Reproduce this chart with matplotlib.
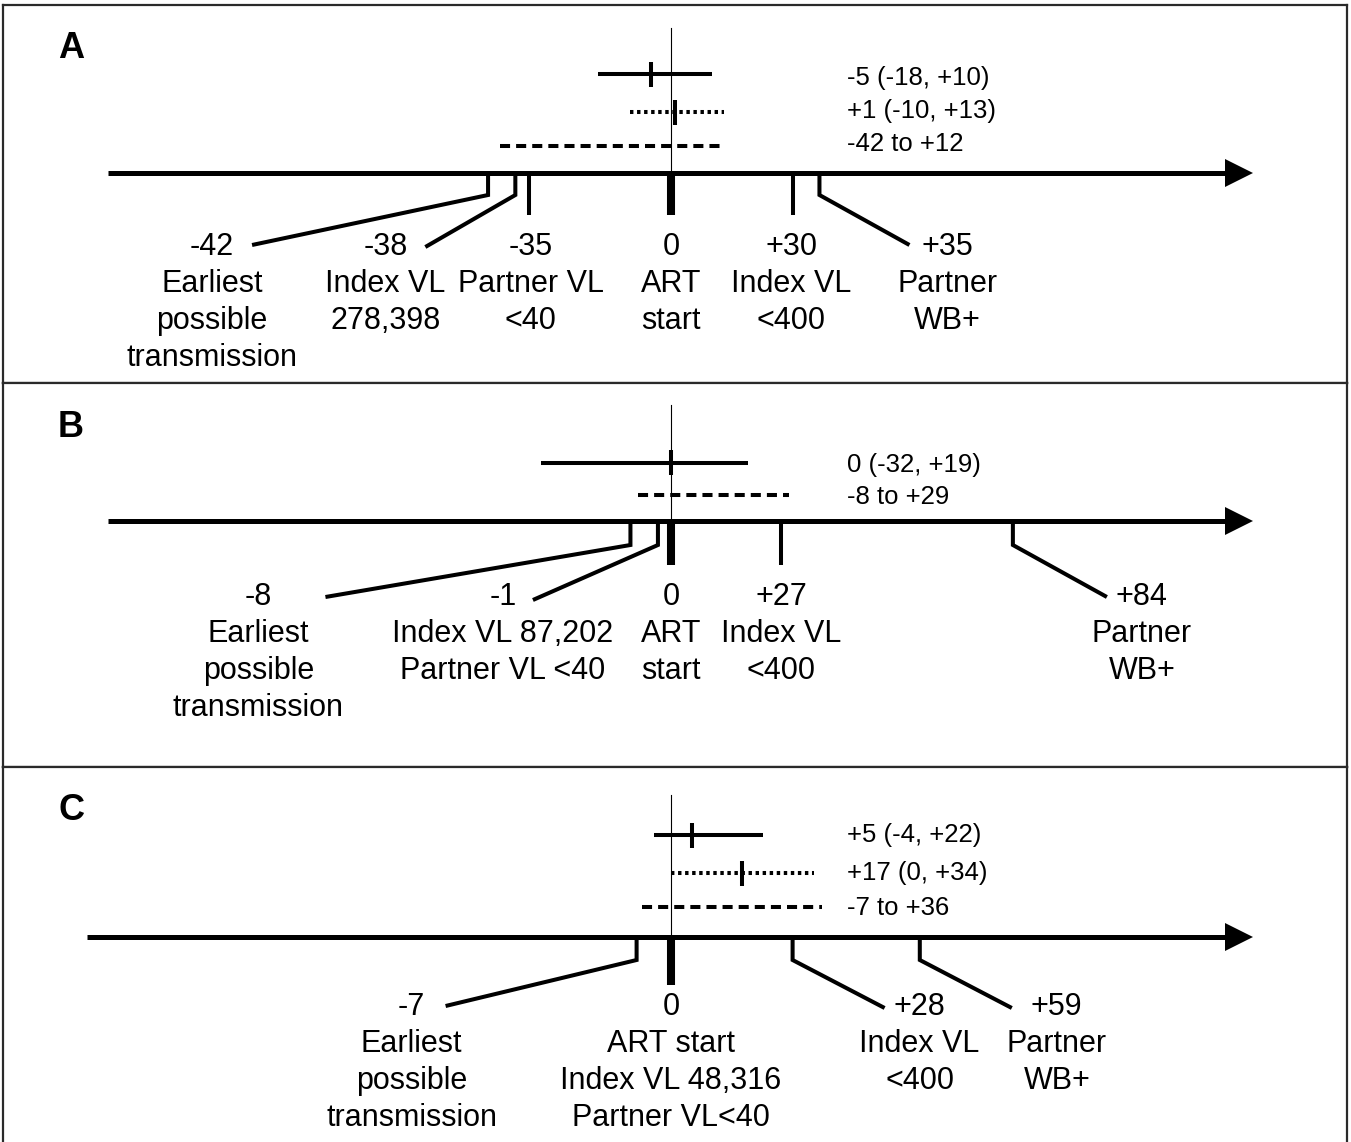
import matplotlib
matplotlib.use('Agg')
import matplotlib.pyplot as plt

plt.rcParams['font.family'] = ['Liberation Sans', 'DejaVu Sans']

# ---- data: days relative to ART start ----
# panel A
a_days = [-42, -38, -35, 0, 30, 35]
a_desc = ['Earliest\npossible\ntransmission', 'Index VL\n278,398', 'Partner VL\n<40',
          'ART\nstart', 'Index VL\n<400', 'Partner\nWB+']
a_solid = (-5, -18, 10)      # estimate, low, high
a_dotted = (1, -10, 13)
a_window = (-42, 12)

# panel B
b_days = [-8, -1, 0, 27, 84]
b_desc = ['Earliest\npossible\ntransmission', 'Index VL 87,202\nPartner VL <40',
          'ART\nstart', 'Index VL\n<400', 'Partner\nWB+']
b_solid = (0, -32, 19)
b_dotted = None
b_window = (-8, 29)

# panel C
c_days = [-7, 0, 28, 59]
c_desc = ['Earliest\npossible\ntransmission', 'ART start\nIndex VL 48,316\nPartner VL<40',
          'Index VL\n<400', 'Partner\nWB+']
c_solid = (5, -4, 22)
c_dotted = (17, 0, 34)
c_window = (-7, 36)

# ---- layout (pixels) ----
W, H = 1351, 1142
ZERO_PX = 671
LEFT_PX, RIGHT_PX = 3, 1347
TIP_PX = 1252

panels = [
    dict(letter='A', box=(5, 383), letter_y=58, scale=4.07, axis_y=173, axis_x0=108, top=28,
         days=a_days, desc=a_desc, solid=a_solid, dotted=a_dotted, window=a_window,
         rows=[74, 112, 146], text_base=[85, 118, 151],
         kind=['knee', 'knee', 'straight', 'zero', 'straight', 'knee'],
         nudge=[-12, -1, 0, 0, 0, 6],
         label_dx=[-276, -130, 2, 0, -2, 128],
         end_dx=[-236, -90, 0, 0, 0, 90],
         knee=22, end_dy=[72, 74, 0, 0, 0, 72], stick=42, base=82),
    dict(letter='B', box=(383, 767), letter_y=437, scale=4.07, axis_y=521, axis_x0=108, top=405,
         days=b_days, desc=b_desc, solid=b_solid, dotted=b_dotted, window=b_window,
         rows=[463, None, 495], text_base=[472, None, 504],
         kind=['knee', 'knee', 'zero', 'straight', 'knee'],
         nudge=[-8, -9, 0, 0, 0],
         label_dx=[-372, -155, 0, 0, 129],
         end_dx=[-305, -125, 0, 0, 94],
         knee=24, end_dy=[76, 79, 0, 0, 76], stick=44, base=84),
    dict(letter='C', box=(767, 1148), letter_y=820, scale=4.2, axis_y=937, axis_x0=87, top=795,
         days=c_days, desc=c_desc, solid=c_solid, dotted=c_dotted, window=c_window,
         rows=[835, 873, 907], text_base=[842, 880, 915],
         kind=['knee', 'zero', 'knee', 'knee'],
         nudge=[-5, 0, 4, 1],
         label_dx=[-225, 0, 127, 137],
         end_dx=[-191, 0, 92, 92],
         knee=23, end_dy=[69, 0, 71, 71], stick=48, base=78),
]

LINE_PITCH = 37
TEXT_X_PX = 847


def fmt_day(d):
    return '0' if d == 0 else f'{d:+d}'


fig = plt.figure(figsize=(W / 100, H / 100), dpi=100)

for p in panels:
    top_px, bot_px = p['box']
    s = p['scale']
    ax = fig.add_axes([LEFT_PX / W, 1 - bot_px / H, (RIGHT_PX - LEFT_PX) / W, (bot_px - top_px) / H])
    ax.set_xlim((LEFT_PX - ZERO_PX) / s, (RIGHT_PX - ZERO_PX) / s)
    ax.set_ylim(bot_px, top_px)
    ax.set_xticks([])
    ax.set_yticks([])
    for sp in ax.spines.values():
        sp.set_linewidth(1.6)
        sp.set_color('#2a2a2a')

    ay = p['axis_y']

    # panel letter
    ax.text((58 - ZERO_PX) / s, p['letter_y'], p['letter'], fontsize=26, fontweight='bold',
            ha='left', va='baseline')

    # thin reference line at ART start
    ax.plot([0, 0], [p['top'], ay], color='black', lw=0.8)

    # main time axis with arrow head
    head = 13 / s
    tip = (TIP_PX - ZERO_PX) / s
    ax.plot([(p['axis_x0'] - ZERO_PX) / s, tip - head], [ay, ay], color='black', lw=3.6,
            solid_capstyle='butt')
    ax.plot([tip - head], [ay], marker='>', ms=19.5, color='black', mew=0)

    # estimates and window
    est_styles = [('solid', p['solid']), ((0, (0.85, 0.9)), p['dotted'])]
    for (ls, est), y, tb in zip(est_styles, p['rows'][:2], p['text_base'][:2]):
        if est is None:
            continue
        e, lo, hi = est
        ax.plot([lo, hi], [y, y], color='black', lw=2.9, linestyle=ls,
                solid_capstyle='butt', dash_capstyle='butt')
        ax.plot([e, e], [y - 12.5, y + 12.5], color='black', lw=2.9, solid_capstyle='butt')
        ax.text((TEXT_X_PX - ZERO_PX) / s, tb, f'{fmt_day(e)} ({fmt_day(lo)}, {fmt_day(hi)})',
                fontsize=18.5, ha='left', va='baseline')
    w0, w1 = p['window']
    y = p['rows'][2]
    ax.plot([w0, w1], [y, y], color='black', lw=2.9, linestyle=(0, (2.5, 1.5)),
            dash_capstyle='butt')
    ax.text((TEXT_X_PX - ZERO_PX) / s, p['text_base'][2], f'{fmt_day(w0)} to {fmt_day(w1)}',
            fontsize=18.5, ha='left', va='baseline')

    # event ticks, leaders and labels
    for i, d in enumerate(p['days']):
        x = d + p['nudge'][i] / s
        kind = p['kind'][i]
        if kind == 'zero':
            ax.plot([x, x], [ay, ay + p['stick']], color='black', lw=5.8, solid_capstyle='butt')
        elif kind == 'straight':
            ax.plot([x, x], [ay, ay + p['stick']], color='black', lw=2.9, solid_capstyle='butt')
        else:
            ax.plot([x, x, x + p['end_dx'][i] / s], [ay, ay + p['knee'], ay + p['end_dy'][i]],
                    color='black', lw=2.9, solid_capstyle='butt', solid_joinstyle='miter')
        lx = x + p['label_dx'][i] / s
        lines = [fmt_day(d)] + p['desc'][i].split('\n')
        for k, line in enumerate(lines):
            ax.text(lx, ay + p['base'] + k * LINE_PITCH, line, fontsize=22,
                    ha='center', va='baseline')

fig.savefig('out.png', dpi=100, facecolor='white')
